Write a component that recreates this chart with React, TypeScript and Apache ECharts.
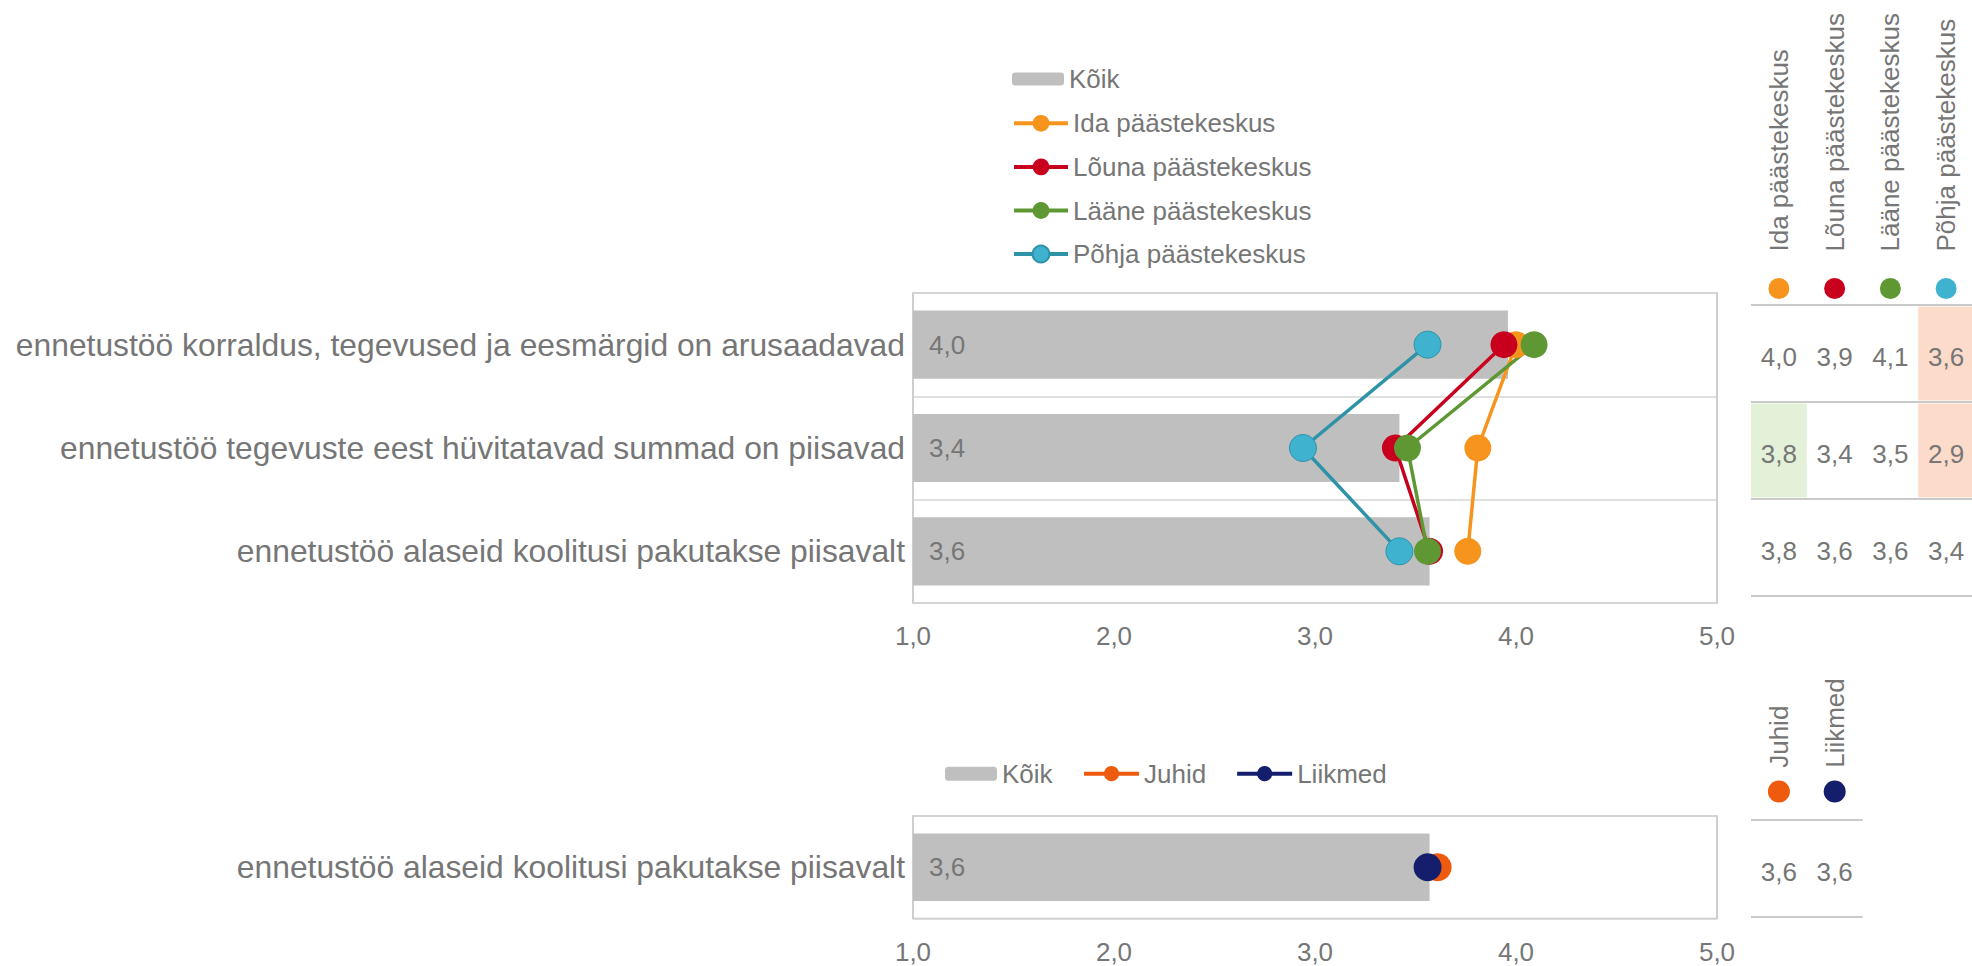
import React, { useEffect, useRef } from 'react';
import * as echarts from 'echarts';

// ---------- data ----------
const topCategories = [
  'ennetustöö korraldus, tegevused ja eesmärgid on arusaadavad',
  'ennetustöö tegevuste eest hüvitatavad summad on piisavad',
  'ennetustöö alaseid koolitusi pakutakse piisavalt',
];
const allName = 'Kõik';
const topAll = [3.96, 3.42, 3.57];
const regionNames = ['Ida päästekeskus', 'Lõuna päästekeskus', 'Lääne päästekeskus', 'Põhja päästekeskus'];
const ida = [4.0, 3.81, 3.76];
const louna = [3.94, 3.4, 3.57];
const laane = [4.09, 3.46, 3.56];
const pohja = [3.56, 2.94, 3.42];
// table cell highlight: 1 = higher (green), -1 = lower (salmon), 0 = none
const idaMark = [0, 1, 0];
const lounaMark = [0, 0, 0];
const laaneMark = [0, 0, 0];
const pohjaMark = [-1, -1, 0];

const bottomCategories = ['ennetustöö alaseid koolitusi pakutakse piisavalt'];
const bottomAll = [3.57];
const roleNames = ['Juhid', 'Liikmed'];
const juhid = [3.61];
const liikmed = [3.56];

const axisMin = 1;
const axisMax = 5;
const axisStep = 1;

// ---------- styles ----------
const FONT = "'Liberation Sans', Arial, sans-serif";
const TEXT = '#767676';
const BAR = '#BFBFBF';
const regionColors = ['#F7941D', '#C8001E', '#5F9732', '#3FB2CF'];
const regionLineColors = ['#F7941D', '#C8001E', '#5F9732', '#2E93A8'];
const roleColors = ['#EE5A0E', '#141E6C'];
const GREEN = '#E3F1D8';
const SALMON = '#FCDBCB';

const fmt = (v: number) => v.toFixed(1).replace('.', ',');

function tableSeries(idx: number, values: number[][], marks: number[][]) {
  const data: number[][] = [];
  values.forEach((col, c) => col.forEach((v, r) => data.push([c, r, v, marks[c][r]])));
  return {
    type: 'custom',
    xAxisIndex: idx,
    yAxisIndex: idx,
    silent: true,
    encode: { x: 0, y: 1 },
    data,
    renderItem: (_params: any, api: any) => {
      const c = api.value(0);
      const r = api.value(1);
      const v = api.value(2);
      const m = api.value(3);
      const p = api.coord([c, r]);
      const s = api.size([1, 1]);
      const children: any[] = [];
      if (m !== 0) {
        children.push({
          type: 'rect',
          shape: { x: p[0] - s[0] / 2, y: p[1] - s[1] / 2 + 1.5, width: s[0], height: s[1] - 3 },
          style: { fill: m > 0 ? GREEN : SALMON },
        });
      }
      children.push({
        type: 'text',
        x: p[0],
        y: p[1] + 3,
        style: {
          text: fmt(v),
          fontSize: 26,
          fontFamily: FONT,
          fill: TEXT,
          align: 'center',
          verticalAlign: 'middle',
        },
      });
      return { type: 'group', children };
    },
  };
}

function headerAxis(idx: number, names: string[], colors: string[], margin: number, gap: number, dot: number) {
  const rich: any = {
    t: { fontSize: 26, fontFamily: FONT, color: TEXT, padding: [0, 0, 0, gap], lineHeight: 26, verticalAlign: 'middle' },
  };
  colors.forEach((c, i) => {
    rich['d' + i] = { width: dot, height: dot, borderRadius: dot / 2, backgroundColor: c, verticalAlign: 'middle' };
  });
  return {
    type: 'category',
    gridIndex: idx,
    position: 'top',
    data: names,
    axisLine: { show: false },
    axisTick: { show: false },
    splitLine: { show: false },
    axisLabel: {
      interval: 0,
      rotate: -90,
      margin,
      formatter: (v: string, i: number) => `{d${i}|}{t|${v}}`,
      rich,
    },
  };
}

function tableYAxis(idx: number, rows: string[]) {
  return {
    type: 'category',
    gridIndex: idx,
    inverse: true,
    data: rows,
    axisLine: { show: false },
    axisTick: { show: false },
    axisLabel: { show: false },
    splitLine: { show: true, interval: 0, lineStyle: { color: '#CACACA', width: 2 } },
  };
}

function valueAxis(idx: number) {
  return {
    type: 'value',
    gridIndex: idx,
    min: axisMin,
    max: axisMax,
    interval: axisStep,
    axisLine: { show: false },
    axisTick: { show: false },
    splitLine: { show: false },
    axisLabel: { fontSize: 26, fontFamily: FONT, color: TEXT, margin: 20, lineHeight: 26, formatter: (v: number) => fmt(v) },
  };
}

function catAxis(idx: number, cats: string[]) {
  return {
    type: 'category',
    gridIndex: idx,
    inverse: true,
    data: cats,
    axisLine: { show: false },
    axisTick: { show: false },
    axisLabel: { fontSize: 31.8, fontFamily: FONT, color: TEXT, margin: 8 },
    splitLine: { show: true, interval: 0, lineStyle: { color: '#D6D6D6', width: 1.5 } },
  };
}

const barLabel = {
  show: true,
  position: 'insideLeft',
  distance: 16,
  fontSize: 26,
  fontFamily: FONT,
  color: TEXT,
  formatter: (p: any) => fmt(Array.isArray(p.value) ? p.value[0] : p.value),
};

function lineSeries(name: string, values: number[], color: string, lineColor: string, idx: number, size: number) {
  return {
    type: 'line',
    name,
    xAxisIndex: idx,
    yAxisIndex: idx,
    data: values.map((v, i) => [v, i]),
    symbol: 'circle',
    symbolSize: size,
    showSymbol: true,
    lineStyle: { color: lineColor, width: 3.5 },
    itemStyle: { color, borderColor: lineColor, borderWidth: lineColor === color ? 0 : 1 },
    z: 3,
  };
}

const legendText = { fontSize: 26, fontFamily: FONT, color: TEXT, lineHeight: 26 };
const legendLine = { width: 4 };

const option: any = {
  animation: false,
  backgroundColor: '#ffffff',
  textStyle: { fontFamily: FONT },
  grid: [
    { left: 913, top: 293, width: 804, height: 310, show: true, borderColor: '#BFBFBF', borderWidth: 1.5, backgroundColor: 'transparent', outerBoundsMode: 'none' },
    { left: 913, top: 816, width: 804, height: 102.5, show: true, borderColor: '#BFBFBF', borderWidth: 1.5, backgroundColor: 'transparent', outerBoundsMode: 'none' },
    { left: 1751, top: 305, width: 223, height: 291, outerBoundsMode: 'none' },
    { left: 1751, top: 820, width: 111.6, height: 97, outerBoundsMode: 'none' },
  ],
  xAxis: [
    valueAxis(0),
    valueAxis(1),
    headerAxis(2, regionNames, regionColors, 6, 26.5, 21),
    headerAxis(3, roleNames, roleColors, 17.5, 12.7, 22),
  ],
  yAxis: [
    catAxis(0, topCategories),
    catAxis(1, bottomCategories),
    tableYAxis(2, topCategories),
    tableYAxis(3, bottomCategories),
  ],
  legend: [
    { data: [allName], orient: 'vertical', left: 1012, top: 66, padding: 0, itemWidth: 52, itemHeight: 13, textStyle: legendText, selectedMode: false },
    { data: regionNames, orient: 'vertical', left: 1012, top: 110.3, padding: 0, itemWidth: 54, itemHeight: 21, itemGap: 17.6, textStyle: legendText, lineStyle: legendLine, selectedMode: false },
    { data: [allName], orient: 'horizontal', left: 945, top: 760.7, padding: 0, itemWidth: 52, itemHeight: 14, textStyle: legendText, selectedMode: false },
    { data: roleNames, orient: 'horizontal', left: 1082, top: 760.7, padding: 0, itemWidth: 55, itemHeight: 19, itemGap: 29, textStyle: legendText, lineStyle: legendLine, selectedMode: false },
  ],
  series: [
    { type: 'bar', name: allName, xAxisIndex: 0, yAxisIndex: 0, data: topAll.map((v, i) => [v, i]), barWidth: '66%', itemStyle: { color: BAR }, label: barLabel, z: 1 },
    lineSeries(regionNames[0], ida, regionColors[0], regionLineColors[0], 0, 27),
    lineSeries(regionNames[1], louna, regionColors[1], regionLineColors[1], 0, 27),
    lineSeries(regionNames[2], laane, regionColors[2], regionLineColors[2], 0, 27),
    lineSeries(regionNames[3], pohja, regionColors[3], regionLineColors[3], 0, 27),
    { type: 'bar', name: allName, xAxisIndex: 1, yAxisIndex: 1, data: bottomAll.map((v, i) => [v, i]), barWidth: '66%', itemStyle: { color: BAR }, label: barLabel, z: 1 },
    lineSeries(roleNames[0], juhid, roleColors[0], roleColors[0], 1, 28),
    lineSeries(roleNames[1], liikmed, roleColors[1], roleColors[1], 1, 28),
    tableSeries(2, [ida, louna, laane, pohja], [idaMark, lounaMark, laaneMark, pohjaMark]),
    tableSeries(3, [juhid, liikmed], [[0], [0]]),
  ],
};

export default function App() {
  const ref = useRef<HTMLDivElement>(null);
  useEffect(() => {
    if (!ref.current) return;
    const chart = echarts.init(ref.current, null, { renderer: 'svg' });
    chart.setOption(option);
    return () => chart.dispose();
  }, []);
  return (
    <div
      ref={ref}
      style={{ position: 'fixed', left: 0, top: 0, width: 1972, height: 966, background: '#ffffff' }}
    />
  );
}
